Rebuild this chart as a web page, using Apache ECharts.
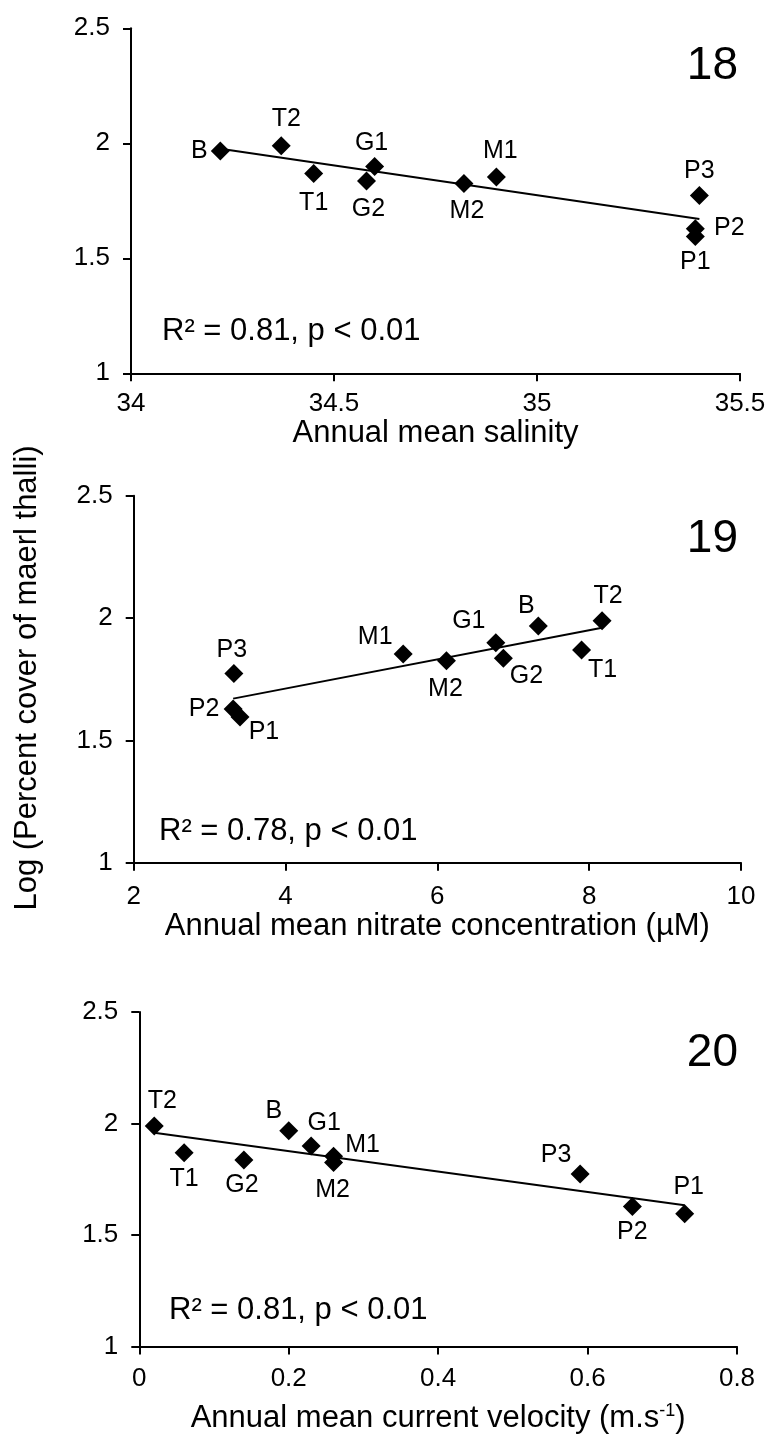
<!DOCTYPE html>
<html><head><meta charset="utf-8">
<script src="https://cdn.jsdelivr.net/npm/echarts@6/dist/echarts.min.js"></script>
<style>html,body{margin:0;padding:0;background:#fff}#chart{width:769px;height:1435px}</style>
</head><body><div id="chart"></div>
<script>
// ---- data ----
const sites = ["B", "T1", "T2", "G1", "G2", "M1", "M2", "P1", "P2", "P3"];
const logCover = [1.967, 1.869, 1.989, 1.899, 1.836, 1.853, 1.825, 1.595, 1.628, 1.773];
const salinity = [34.22, 34.45, 34.37, 34.60, 34.58, 34.90, 34.82, 35.39, 35.39, 35.40];
const nitrate = [7.33, 7.90, 8.17, 6.77, 6.87, 5.55, 6.12, 3.40, 3.31, 3.32];
const velocity = [0.20, 0.06, 0.02, 0.23, 0.14, 0.26, 0.26, 0.73, 0.66, 0.59];
const yTicks = [1, 1.5, 2, 2.5];
const salinityTicks = [34, 34.5, 35, 35.5];
const nitrateTicks = [2, 4, 6, 8, 10];
const velocityTicks = [0, 0.2, 0.4, 0.6, 0.8];
const panelNumbers = ["18", "19", "20"];
const statTexts = ["R² = 0.81, p < 0.01", "R² = 0.78, p < 0.01", "R² = 0.81, p < 0.01"];
const xTitles = ["Annual mean salinity", "Annual mean nitrate concentration (µM)", "Annual mean current velocity (m.s{sup|-1})"];
const yTitle = "Log (Percent cover of maerl thalli)";

// ---- styling / layout ----
const FONT = '"Liberation Sans", Arial, sans-serif';
const grids = [
  {left: 131, top: 28.3, width: 609, height: 345},
  {left: 133.7, top: 495.7, width: 607.3, height: 367},
  {left: 139.3, top: 1012, width: 597.7, height: 337.3}
];
const xNameGaps = [28, 26, 56];
const xLabelMargins = [18, 21, 19];
// label offsets (px) from each marker centre, order as sites
const labelOffsets = [
  [[-21,0],[0,30],[5,-27],[-3,-23],[2,28],[4,-26],[3,28],[0,26],[34,-1],[0,-24]],
  [[-12,-20],[21,20],[6,-25],[-27,-22],[23,18],[-28,-17],[-1,28],[24,15],[-29,0],[-2,-23]],
  [[-15,-20],[0,26],[8,-25],[13,-23],[-2,25],[29,-11],[-1,28],[4,-27],[0,26],[-24,-19]]
];
const statPos = [[162, 331], [159, 831], [169, 1310]];
const numberPos = [[738, 66.5], [738, 539], [738, 1053.5]];

const xSets = [salinity, nitrate, velocity];
const xTickSets = [salinityTicks, nitrateTicks, velocityTicks];

function fit(xs, ys) {
  const n = xs.length;
  const mx = xs.reduce((a, b) => a + b, 0) / n;
  const my = ys.reduce((a, b) => a + b, 0) / n;
  let sxy = 0, sxx = 0;
  for (let i = 0; i < n; i++) { sxy += (xs[i] - mx) * (ys[i] - my); sxx += (xs[i] - mx) ** 2; }
  const b = sxy / sxx, a = my - b * mx;
  const x0 = Math.min(...xs), x1 = Math.max(...xs);
  return [[x0, a + b * x0], [x1, a + b * x1]];
}

const xAxes = [], yAxes = [], series = [], graphics = [];
for (let p = 0; p < 3; p++) {
  const ticks = xTickSets[p];
  xAxes.push({
    gridIndex: p, type: 'value',
    min: ticks[0], max: ticks[ticks.length - 1], interval: ticks[1] - ticks[0],
    axisLine: {show: true, onZero: false, lineStyle: {color: '#000', width: 2}},
    axisTick: {show: true, length: 8, lineStyle: {color: '#000', width: 2}},
    splitLine: {show: false},
    axisLabel: {color: '#000', fontSize: 26, fontFamily: FONT, margin: xLabelMargins[p], showMinLabel: true, showMaxLabel: true},
    name: xTitles[p], nameLocation: 'middle', nameGap: xNameGaps[p],
    nameTextStyle: {color: '#000', fontSize: 31, fontFamily: FONT,
      rich: {sup: {fontSize: 18, fontFamily: FONT, color: '#000', verticalAlign: 'top', padding: [0, 0, 14, 0]}}}
  });
  yAxes.push({
    gridIndex: p, type: 'value',
    min: yTicks[0], max: yTicks[yTicks.length - 1], interval: yTicks[1] - yTicks[0],
    axisLine: {show: true, onZero: false, lineStyle: {color: '#000', width: 2}},
    axisTick: {show: true, length: 8, lineStyle: {color: '#000', width: 2}},
    splitLine: {show: false},
    axisLabel: {color: '#000', fontSize: 26, fontFamily: FONT, margin: 21, showMinLabel: true, showMaxLabel: true}
  });
  const xs = xSets[p];
  series.push({
    type: 'scatter', xAxisIndex: p, yAxisIndex: p,
    symbol: 'diamond', symbolSize: 19,
    itemStyle: {color: '#000', opacity: 1},
    label: {show: true, position: 'inside', formatter: '{b}', color: '#000', opacity: 1, fontSize: 25, fontFamily: FONT},
    data: sites.map((s, i) => ({name: s, value: [xs[i], logCover[i]], label: {offset: labelOffsets[p][i]}})),
    z: 3
  });
  series.push({
    type: 'line', xAxisIndex: p, yAxisIndex: p,
    data: fit(xs, logCover), symbol: 'none',
    lineStyle: {color: '#000', width: 2}, silent: true, z: 4
  });
  graphics.push({
    type: 'text', x: statPos[p][0], y: statPos[p][1],
    style: {text: statTexts[p], fill: '#000', fontSize: 31, fontFamily: FONT, align: 'left', verticalAlign: 'middle'}
  });
  graphics.push({
    type: 'text', x: numberPos[p][0], y: numberPos[p][1],
    style: {text: panelNumbers[p], fill: '#000', fontSize: 46, fontFamily: FONT, align: 'right', verticalAlign: 'middle'}
  });
}
graphics.push({
  type: 'text', x: 27.5, y: 678, rotation: Math.PI / 2,
  style: {text: yTitle, fill: '#000', fontSize: 31, fontFamily: FONT, align: 'center', verticalAlign: 'middle'}
});

const chart = echarts.init(document.getElementById('chart'), null, {renderer: 'canvas'});
chart.setOption({
  backgroundColor: '#fff',
  animation: false,
  grid: grids,
  xAxis: xAxes,
  yAxis: yAxes,
  series: series,
  graphic: graphics
});
</script>
</body></html>
